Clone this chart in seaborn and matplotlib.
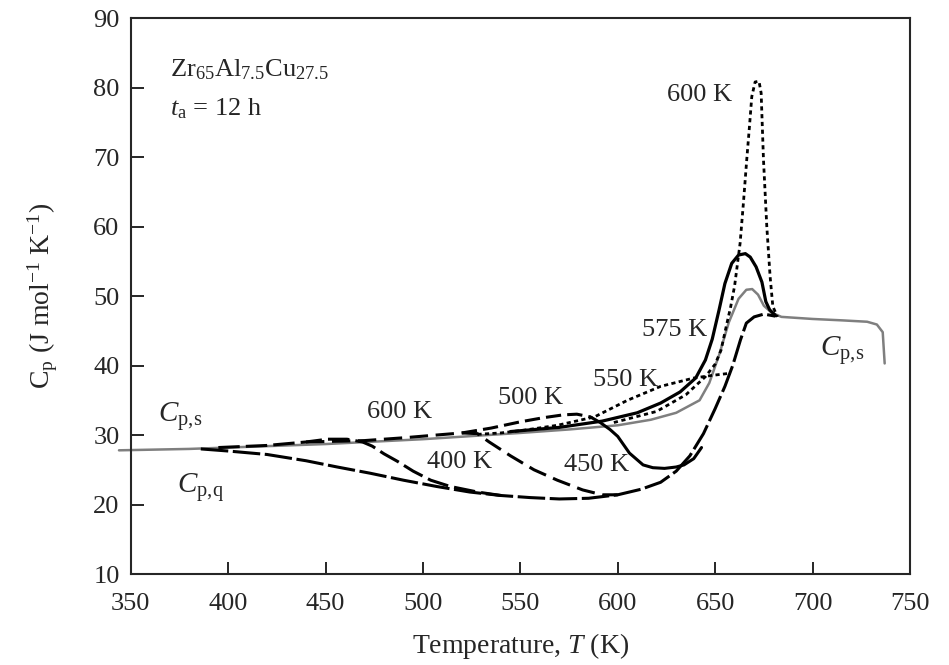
import numpy as np
import pandas as pd
import matplotlib
matplotlib.use("Agg")
import matplotlib.pyplot as plt
import seaborn as sns

# Cp,s (gray reference curve)
cps_T = [344, 380, 400, 450, 500, 550, 575, 600, 617, 630, 642, 647, 652, 657, 662, 666, 669, 672, 675, 679, 684, 700, 715, 728, 733, 736, 737]
cps_C = [27.8, 28.0, 28.2, 28.7, 29.4, 30.3, 30.8, 31.4, 32.2, 33.2, 35.0, 37.5, 41.5, 46.2, 49.6, 50.9, 51.0, 50.2, 48.6, 47.6, 47.0, 46.7, 46.5, 46.3, 45.9, 44.8, 40.3]

# Cp,q (as-quenched)
cpq_T = [386, 400, 420, 440, 456, 473, 490, 507, 524, 540, 555, 570, 585, 600, 612, 622, 630, 637, 644, 650, 655, 659, 663, 666, 670, 675, 681]
cpq_C = [28.0, 27.7, 27.2, 26.3, 25.4, 24.5, 23.5, 22.6, 21.8, 21.3, 21.0, 20.8, 20.9, 21.4, 22.2, 23.2, 24.8, 27.0, 30.2, 33.8, 37.0, 40.0, 43.7, 46.1, 47.0, 47.4, 47.1]

# annealed curves
c400_T = [395, 420, 440, 451, 461, 469, 474, 480, 487, 495, 504, 514, 528, 540]
c400_C = [28.2, 28.5, 29.0, 29.4, 29.4, 29.0, 28.4, 27.3, 26.2, 24.8, 23.5, 22.6, 21.8, 21.3]

c450_T = [440, 470, 490, 507, 520, 528, 534, 545, 557, 569, 582, 592, 600]
c450_C = [29.0, 29.2, 29.6, 30.0, 30.3, 30.2, 29.0, 27.0, 25.0, 23.5, 22.1, 21.4, 21.4]

c500_T = [520, 535, 550, 562, 572, 579, 586, 591, 596, 600, 606, 613, 618, 624, 630, 634, 639, 643]
c500_C = [30.3, 31.0, 31.9, 32.5, 32.9, 33.0, 32.6, 31.8, 30.8, 29.8, 27.4, 25.7, 25.3, 25.2, 25.4, 25.7, 26.6, 28.2]

c550_T = [528, 540, 552, 569, 588, 605, 622, 639, 649, 658]
c550_C = [30.1, 30.3, 30.7, 31.4, 32.6, 35.0, 37.0, 38.2, 38.6, 38.9]

c575_T = [545, 570, 592, 610, 622, 632, 640, 645, 648.5, 652, 655, 658.5, 662, 665.5, 668, 671, 674, 676, 678, 681]
c575_C = [30.5, 31.1, 32.0, 33.2, 34.6, 36.2, 38.2, 40.8, 43.8, 48.0, 51.8, 54.7, 55.9, 56.1, 55.6, 54.2, 52.0, 49.2, 48.0, 47.2]

c600_T = [598, 620, 635, 645, 650, 653, 655.5, 658, 660, 662.8, 664.5, 666.2, 667.6, 668.8, 670.5, 672.5, 673.6, 674.8, 676.5, 678.2, 679.6, 682]
c600_C = [31.8, 33.4, 35.8, 38.4, 40.2, 42.2, 45.4, 48.5, 51.5, 57.6, 63.4, 69.6, 74.4, 78.7, 80.8, 80.9, 79.2, 69.6, 60.0, 52.8, 48.5, 47.0]

# curve labels
label_text = ["600 K", "575 K", "550 K", "500 K", "600 K", "400 K", "450 K"]
label_T = [642, 629, 604, 555, 488, 519, 589]
label_C = [78.9, 45.1, 37.9, 35.3, 33.3, 26.1, 25.7]

sns.set_style("ticks")
plt.rcParams['font.family'] = ['Liberation Serif', 'DejaVu Serif']
plt.rcParams['mathtext.fontset'] = 'custom'
plt.rcParams['mathtext.rm'] = 'Liberation Serif'
plt.rcParams['mathtext.it'] = 'Liberation Serif:italic'
plt.rcParams['mathtext.bf'] = 'Liberation Serif:bold'

fig = plt.figure(figsize=(9.49, 6.65), dpi=100)
ax = fig.add_axes([0.1377, 0.1368, 0.8212, 0.8361])

def draw(T, C, **kw):
    df = pd.DataFrame({"T": T, "Cp": C})
    sns.lineplot(data=df, x="T", y="Cp", ax=ax, sort=False, estimator=None, **kw)

draw(cps_T, cps_C, color="#7f7f7f", linewidth=1.8, clip_on=False)
draw(cpq_T, cpq_C, color="black", linewidth=2.2, linestyle=(0, (9, 1.5)))
draw(c400_T, c400_C, color="black", linewidth=2.2, linestyle=(0, (7, 2)))
draw(c450_T, c450_C, color="black", linewidth=2.2, linestyle=(0, (6, 2.5)))
draw(c500_T[:7], c500_C[:7], color="black", linewidth=2.2, linestyle=(0, (5, 2)))
draw(c500_T[6:], c500_C[6:], color="black", linewidth=2.2)
draw(c550_T, c550_C, color="black", linewidth=2.0, linestyle=(0, (1.5, 1.2)))
draw(c575_T, c575_C, color="black", linewidth=2.3)
draw(c600_T, c600_C, color="black", linewidth=2.0, linestyle=(0, (1.5, 1.3)))

for txt, t, c in zip(label_text, label_T, label_C):
    ax.text(t, c, txt, fontsize=19, ha="center", va="center")

ax.text(364, 32.6, r"$C_{\mathrm{p,\!s}}$", fontsize=21, ha="left", va="center")
ax.text(374, 22.4, r"$C_{\mathrm{p,\!q}}$", fontsize=21, ha="left", va="center")
ax.text(704, 42.2, r"$C_{\mathrm{p,\!s}}$", fontsize=21, ha="left", va="center")

ax.text(370, 82.6, r"Zr$_{65}$Al$_{7.5}$Cu$_{27.5}$", fontsize=19, ha="left", va="center")
ax.text(370, 76.9, r"$t_{\mathrm{a}}$ = 12 h", fontsize=19, ha="left", va="center")

ax.set_xlim(350, 750)
ax.set_ylim(10, 90)
ax.set_xticks(np.arange(350, 751, 50))
ax.set_yticks(np.arange(10, 91, 10))
ax.tick_params(direction="in", length=9, width=1.4, labelsize=19,
               top=False, right=False)
ax.tick_params(axis="x", pad=14)
ax.tick_params(axis="y", pad=8)
for s in ax.spines.values():
    s.set_linewidth(1.5)
    s.set_visible(True)
ax.set_xlabel(r"Temperature, $T$ (K)", fontsize=20, labelpad=11)
ax.set_ylabel(r"$\mathrm{C}_{\mathrm{p}}$ (J mol$^{-1}$ K$^{-1}$)", fontsize=20, labelpad=24)

fig.savefig("out.png", dpi=100)
